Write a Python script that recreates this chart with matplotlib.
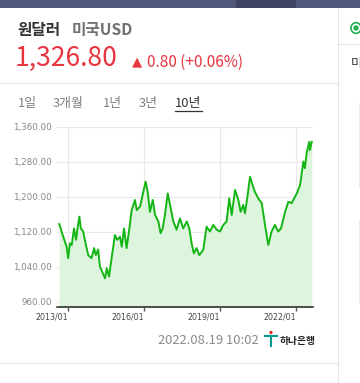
import matplotlib
matplotlib.use("Agg")
from matplotlib import pyplot as plt
from matplotlib.patches import Rectangle, Circle
from matplotlib.lines import Line2D

# USD/KRW, 10 years (decimal year, won per dollar)
years = [2012.67, 2012.76, 2012.89, 2012.96, 2013.02, 2013.09, 2013.16, 2013.25,
         2013.33, 2013.38, 2013.46, 2013.52, 2013.61, 2013.72, 2013.81, 2013.94,
         2014.04, 2014.11, 2014.20, 2014.27, 2014.38, 2014.47, 2014.54, 2014.63,
         2014.73, 2014.86, 2014.95, 2015.06, 2015.13, 2015.22, 2015.32, 2015.43,
         2015.52, 2015.65, 2015.72, 2015.85, 2015.98, 2016.07, 2016.15, 2016.24,
         2016.35, 2016.44, 2016.57, 2016.66, 2016.74, 2016.83, 2016.94, 2017.03,
         2017.16, 2017.29, 2017.42, 2017.55, 2017.69, 2017.79, 2017.88, 2017.97,
         2018.08, 2018.18, 2018.34, 2018.47, 2018.60, 2018.73, 2018.87, 2019.00,
         2019.13, 2019.26, 2019.36, 2019.46, 2019.59, 2019.72, 2019.81, 2019.91,
         2019.98, 2020.07, 2020.18, 2020.28, 2020.37, 2020.50, 2020.64, 2020.77,
         2020.90, 2021.03, 2021.16, 2021.29, 2021.40, 2021.56, 2021.69, 2021.82,
         2022.02, 2022.15, 2022.28, 2022.34, 2022.41, 2022.51, 2022.54, 2022.61]
rate = [1138, 1121, 1098, 1086, 1060, 1094, 1090, 1128,
        1102, 1125, 1155, 1128, 1121, 1090, 1067, 1060,
        1083, 1067, 1080, 1041, 1026, 1014, 1037, 1018,
        1060, 1113, 1102, 1109, 1086, 1128, 1083, 1128,
        1170, 1193, 1170, 1178, 1212, 1235, 1212, 1166,
        1193, 1159, 1144, 1117, 1128, 1159, 1208, 1182,
        1144, 1125, 1151, 1128, 1144, 1128, 1094, 1071,
        1083, 1067, 1079, 1132, 1121, 1136, 1125, 1121,
        1136, 1144, 1197, 1159, 1216, 1193, 1166, 1182,
        1163, 1197, 1246, 1227, 1212, 1197, 1186, 1136,
        1090, 1121, 1136, 1121, 1128, 1166, 1189, 1186,
        1208, 1227, 1281, 1266, 1300, 1326, 1307, 1326]

xticks = [2013, 2016, 2019, 2022]
xtick_labels = ["2013/01", "2016/01", "2019/01", "2022/01"]
yticks = [960, 1040, 1120, 1200, 1280, 1360]
ytick_labels = ["960.00", "1,040.00", "1,120.00", "1,200.00", "1,280.00", "1,360.00"]
tabs = ["1일", "3개월", "1년", "3년", "10년"]

W, H = 360, 383
KR = ["Noto Sans CJK KR", "DejaVu Sans"]


def fx(x):
    return x / W


def fy(y):
    return 1 - y / H


fig = plt.figure(figsize=(W / 100, H / 100), dpi=100)
fig.patch.set_facecolor("white")

# top nav bar
fig.add_artist(Rectangle((0, fy(8)), 1, 8 / H, transform=fig.transFigure,
                         color="#51587a", lw=0))
fig.add_artist(Rectangle((fx(236), fy(8)), 60 / W, 8 / H, transform=fig.transFigure,
                         color="#3d4360", lw=0))

# panel borders
fig.add_artist(Line2D([0, fx(337)], [fy(82.5)] * 2, transform=fig.transFigure,
                      color="#e4e4e4", lw=0.8))
fig.add_artist(Line2D([0, fx(337)], [fy(363)] * 2, transform=fig.transFigure,
                      color="#e4e4e4", lw=0.8))
fig.add_artist(Line2D([fx(337.5)] * 2, [fy(8), 0], transform=fig.transFigure,
                      color="#e4e4e4", lw=0.8))
fig.add_artist(Line2D([fx(337.5), 1], [fy(44)] * 2, transform=fig.transFigure,
                      color="#e4e4e4", lw=0.8))
for y0, y1 in [(103, 187), (220, 303)]:
    fig.add_artist(Line2D([fx(358.5)] * 2, [fy(y0), fy(y1)], transform=fig.transFigure,
                          color="#e8e8e8", lw=0.6))
fig.add_artist(Circle((fx(356), fy(28)), 5 / W, transform=fig.transFigure,
                      fc="white", ec="#22b14c", lw=1.2))
fig.add_artist(Circle((fx(356), fy(28)), 2.6 / W, transform=fig.transFigure,
                      fc="#22b14c", lw=0))
fig.text(fx(351), fy(64), "미", family=KR, fontsize=9, color="#333333", va="center")

# header
fig.text(fx(17), fy(30), "원달러", family=KR, fontsize=11.3, fontweight="bold",
         color="#333333", va="center")
fig.text(fx(72), fy(30), "미국USD", family=KR, fontsize=11.3, fontweight="bold",
         color="#707070", va="center")
fig.text(fx(15), fy(58), "1,326.80", family=KR, fontsize=19, color="#e8343f",
         va="center")
fig.text(fx(132), fy(62), "▲", family="DejaVu Sans", fontsize=9.5, color="#e8343f",
         va="center")
fig.text(fx(147), fy(62), "0.80 (+0.06%)", family=KR, fontsize=11, color="#e8343f",
         va="center")

# period tabs
tab_x = [18, 53, 103, 139, 175]
for i, (t, x) in enumerate(zip(tabs, tab_x)):
    sel = i == len(tabs) - 1
    fig.text(fx(x), fy(104), t, family=KR, fontsize=9.3,
             color="#333333" if sel else "#808080", va="center")
fig.add_artist(Line2D([fx(175), fx(202)], [fy(110.5)] * 2, transform=fig.transFigure,
                      color="#333333", lw=0.9))

# chart
ax = fig.add_axes([fx(57), fy(306.7), (313 - 57) / W, (306.7 - 127) / H])
ax.fill_between(years, rate, 900, color="#dcf5dc", lw=0)
ax.plot(years, rate, color="#14b514", lw=1.4)
ax.set_xlim(2012.58, 2022.66)
ax.set_ylim(949, 1360)
ax.set_xticks(xticks, xtick_labels)
ax.set_yticks(yticks, ytick_labels)
for lab in ax.get_xticklabels():
    lab.set_ha("right")
ax.tick_params(axis="x", length=3, width=1, color="#555555", pad=1.5,
               labelsize=5.7, labelcolor="#444444")
ax.tick_params(axis="y", length=0, pad=3.6, labelsize=6.3, labelcolor="#888888")
ax.set_axisbelow(True)
ax.grid(color="#e9e9e9", lw=0.8)
for s in ["left", "right", "top"]:
    ax.spines[s].set_visible(False)
ax.spines["bottom"].set_color("#222222")
ax.spines["bottom"].set_linewidth(1.1)

# footer
fig.text(fx(158), fy(341), "2022.08.19 10:02", family=KR, fontsize=9.3,
         color="#8a8a8a", va="center")
fig.add_artist(Line2D([fx(265), fx(277)], [fy(336)] * 2, transform=fig.transFigure,
                      color="#009b8f", lw=1.5))
fig.add_artist(Line2D([fx(271), fx(271)], [fy(337), fy(346)], transform=fig.transFigure,
                      color="#009b8f", lw=1.5))
fig.add_artist(Circle((fx(271), fy(332.5)), 1.6 / W, transform=fig.transFigure,
                      fc="#e2231a", lw=0))
fig.text(fx(280), fy(341), "하나은행", family=KR, fontsize=7, fontweight="bold",
         color="#222222", va="center")

fig.savefig("out.png", dpi=100)
